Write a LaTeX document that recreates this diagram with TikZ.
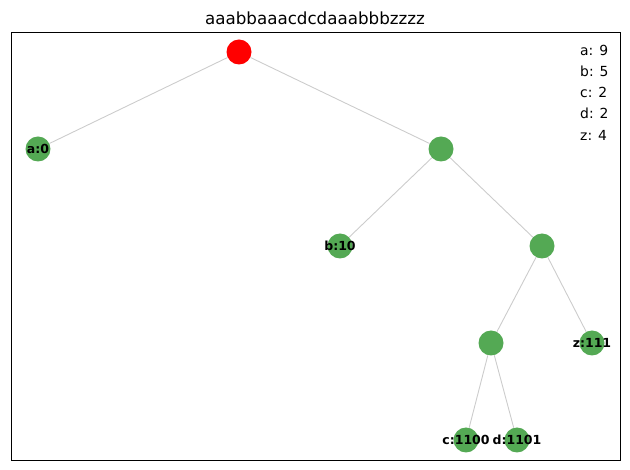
\documentclass[tikz,border=0pt]{standalone}
\usepackage{fontspec}
\setmainfont{DejaVu Sans}
\definecolor{nodegreen}{RGB}{84,169,84}
\definecolor{edgegray}{RGB}{204,204,204}
\begin{document}
\begin{tikzpicture}[x=1pt,y=-1pt,
  leaf/.style={circle,fill=nodegreen,minimum size=25pt,inner sep=0pt},
  root/.style={circle,fill=red,minimum size=25pt,inner sep=0pt},
  lbl/.style={font=\fontsize{12.5}{13}\selectfont\bfseries,inner sep=0pt},
  leg/.style={font=\fontsize{13.9}{15}\selectfont,inner sep=0pt,anchor=west},
  edge/.style={draw=edgegray,line width=0.9pt}]
\useasboundingbox (0,0) rectangle (630,470);
\draw[line width=0.8pt] (11,32) rectangle (620,460);
\node[font=\fontsize{16.7}{18}\selectfont,inner sep=0pt] (title) at (315,18) {aaabbaaacdcdaaabbbzzzz};
\node[root] (r) at (239,52) {};
\node[leaf] (a) at (38,149) {};
\node[leaf] (n1) at (441,149) {};
\node[leaf] (b) at (340,246) {};
\node[leaf] (n2) at (542,246) {};
\node[leaf] (n3) at (491,343) {};
\node[leaf] (z) at (592,343) {};
\node[leaf] (c) at (466,440) {};
\node[leaf] (d) at (517,440) {};
\begin{scope}[on background layer/.try]
\end{scope}
\path[edge] (r) -- (a);
\path[edge] (r) -- (n1);
\path[edge] (n1) -- (b);
\path[edge] (n1) -- (n2);
\path[edge] (n2) -- (n3);
\path[edge] (n2) -- (z);
\path[edge] (n3) -- (c);
\path[edge] (n3) -- (d);
\node[lbl] (la) at (38,149) {a:0};
\node[lbl] (lb) at (340,246) {b:10};
\node[lbl] (lz) at (592,343) {z:111};
\node[lbl] (lc) at (466,440) {c:1100};
\node[lbl] (ld) at (517,440) {d:1101};
\node[leg] (g1) at (580,50) {a: 9};
\node[leg] (g2) at (580,71) {b: 5};
\node[leg] (g3) at (580,92) {c: 2};
\node[leg] (g4) at (580,113) {d: 2};
\node[leg] (g5) at (580,135) {z: 4};
\end{tikzpicture}
\end{document}
